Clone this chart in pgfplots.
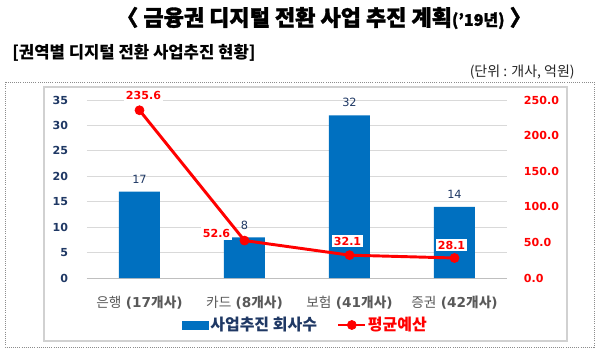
\documentclass[border=0pt]{standalone}
\usepackage{pgfplots}
\pgfplotsset{compat=1.18}
\usepackage{pgfplotstable}
\usepackage{fontspec}
\setmainfont{DejaVu Sans}
\newfontfamily\kr{Noto Sans CJK KR}
\newfontfamily\krh{Noto Sans CJK KR}[BoldFeatures={FakeBold=1.5}]
\definecolor{barblue}{HTML}{0070C0}
\definecolor{navy}{HTML}{1F3864}
\definecolor{lred}{HTML}{FF0000}
\definecolor{catgray}{HTML}{595959}
\definecolor{gridgray}{HTML}{D9D9D9}
\newcommand\cat[2]{{\kr #1} \textbf{(#2{\kr\bfseries 개사})}}
\pgfplotsset{
 mylinelegend/.style={legend image code/.code={\draw[##1, mark repeat=2, mark phase=2] plot coordinates {(0pt,0pt) (10pt,0pt) (20pt,0pt)};}},
 mybarlegend/.style={legend image code/.code={\fill[barblue] (0pt,-3pt) rectangle (20pt,3pt);}},
}

\pgfplotstableread{
x cnt
0 17
1 8
2 32
3 14
}\cnttable
\pgfplotstableread{
x avg dx dy
0 235.6 3 11.25
1 52.6 -21 5.25
2 32.1 -1.5 10.5
3 28.1 -2.25 9.75
}\avgtable

\begin{document}
\begin{tikzpicture}
\path (0,0) rectangle (450pt,263.25pt);
\begin{scope}[x=0.75pt,y=-0.75pt,yshift=263.25pt, every node/.style={inner sep=0pt}]
\node[anchor=center, font=\krh\bfseries\fontsize{16.5}{19}\selectfont] at (324,18) {〈 금융권 디지털 전환 사업 추진 계획{\fontsize{12}{14}\selectfont(’19년)} 〉};
\node[anchor=west, font=\kr\bfseries\fontsize{12.5}{15}\selectfont] at (12,53) {[권역별 디지털 전환 사업추진 현황]};
\node[anchor=east, font=\kr\fontsize{10.5}{12}\selectfont, text=black!85] at (575,72) {(단위 : 개사, 억원)};
\draw[black!45, densely dotted, line width=0.6pt] (5,82) rectangle (594,347);
\draw[black!18, line width=0.8pt] (44,87) rectangle (567,341);
\end{scope}

\begin{axis}[
 at={(65.25pt,54.75pt)}, anchor=south west,
 scale only axis, width=315pt, height=133.5pt,
 xmin=-0.5, xmax=3.5, ymin=0, ymax=35,
 ybar, bar width=30.75pt,
 xtick=data, xticklabels={\cat{은행}{17}, \cat{카드}{8}, \cat{보험}{41}, \cat{증권}{42}},
 ytick={0,5,...,35},
 ymajorgrids, major grid style={gridgray, line width=0.75pt},
 axis x line*=bottom, axis y line*=left,
 x axis line style={black!25, line width=0.75pt, -},
 y axis line style={draw=none},
 tick style={draw=none},
 /pgf/number format/assume math mode=true,
 xticklabel style={font=\fontsize{10.25}{12}\selectfont, text=catgray, anchor=center, yshift=-14.5pt},
 yticklabel style={font=\fontsize{8.3}{10}\selectfont\bfseries, text=navy, anchor=east, xshift=-10.7pt},
 nodes near coords,
 nodes near coords style={font=\fontsize{8.5}{10}\selectfont, text=navy, anchor=center, yshift=9.3pt},
]
\addplot[fill=barblue, draw=none] table[x=x,y=cnt]{\cnttable};
\end{axis}

\begin{axis}[
 at={(65.25pt,54.75pt)}, anchor=south west,
 scale only axis, width=315pt, height=133.5pt,
 xmin=-0.5, xmax=3.5, ymin=0, ymax=250,
 axis x line=none, axis y line*=right,
 y axis line style={draw=none}, tick style={draw=none},
 ytick={0,50,...,250},
 /pgf/number format/assume math mode=true,
 yticklabel style={font=\fontsize{8.3}{10}\selectfont\bfseries, text=lred, anchor=west, xshift=9.2pt, /pgf/number format/fixed, /pgf/number format/fixed zerofill, /pgf/number format/precision=1},
 legend style={at={(axis description cs:0.519,-0.264)}, anchor=center, draw=none, fill=none, legend columns=2, font=\kr\bfseries\fontsize{12}{14}\selectfont, /tikz/every even column/.append style={column sep=14pt}, inner sep=0pt, nodes={inner sep=1pt}},
 legend cell align=left,
]
\addlegendimage{mybarlegend}
\addlegendentry{\textcolor{navy}{사업추진 회사수}}
\addplot[lred, line width=2.2pt, mark=*, mark size=3.4pt, mark options={fill=lred, line width=0.5pt},
 mylinelegend,
 nodes near coords,
 visualization depends on={\thisrow{dx} \as \dx},
 visualization depends on={\thisrow{dy} \as \dy},
 nodes near coords style={font=\fontsize{8.3}{10}\selectfont\bfseries, text=lred, fill=white, inner sep=1.5pt, anchor=center, xshift=\dx pt, yshift=\dy pt},
] table[x=x,y=avg]{\avgtable};
\addlegendentry{\textcolor{lred}{평균예산}}
\end{axis}
\pgfresetboundingbox
\path (0,0) rectangle (450pt,263.25pt);
\end{tikzpicture}
\end{document}
